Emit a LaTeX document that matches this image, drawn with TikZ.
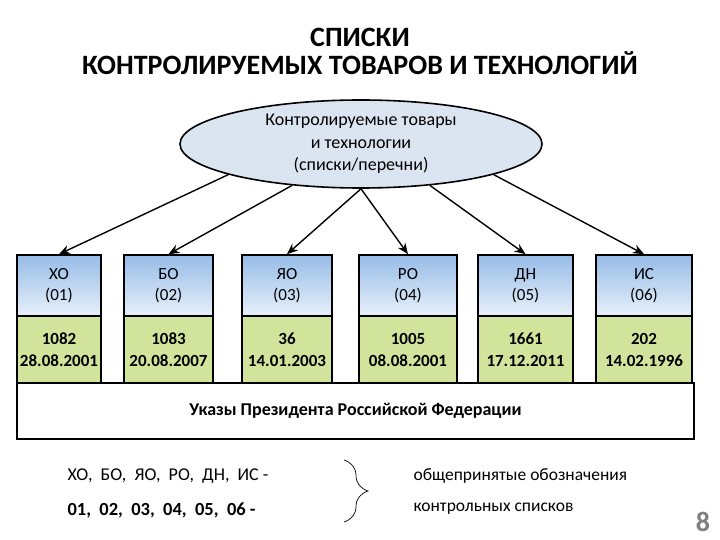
\documentclass[tikz,border=0pt]{standalone}
\usepackage{fontspec}
\setmainfont{Carlito}
\usetikzlibrary{arrows.meta,shapes.geometric,positioning,decorations.pathreplacing}

\definecolor{listblue}{RGB}{219,229,241}
\definecolor{headtop}{RGB}{150,188,232}
\definecolor{headbot}{RGB}{232,240,249}
\definecolor{decgreen}{RGB}{210,228,155}
\definecolor{pagegray}{RGB}{128,128,128}

\begin{document}
\begin{tikzpicture}[x=1pt, y=-1pt,
  head/.style={draw, line width=1.6pt, top color=headtop, bottom color=headbot,
    minimum height=61pt, inner sep=0pt, align=center,
    font=\fontsize{17}{21}\selectfont},
  decree/.style={draw, line width=1.6pt, fill=decgreen,
    minimum height=67pt, inner sep=0pt, align=center,
    font=\bfseries\fontsize{17}{22}\selectfont},
  link/.style={line width=1.4pt, -{Stealth[length=11pt, width=9pt]}}]
  \useasboundingbox (0,0) rectangle (720,540);
  \fill[white] (0,0) rectangle (720,540);

  \node[font=\bfseries\fontsize{28}{28}\selectfont, align=center] (title) at (360,51)
    {СПИСКИ\\КОНТРОЛИРУЕМЫХ ТОВАРОВ И ТЕХНОЛОГИЙ};

  \node[ellipse, draw, line width=1.6pt, fill=listblue, minimum width=362pt,
    minimum height=88pt, inner sep=0pt, align=center,
    font=\fontsize{18}{22.5}\selectfont] (list) at (361,144)
    {Контролируемые товары\\и технологии\\(списки/перечни)};

  % указы
  \node[draw, line width=1.6pt, fill=white, minimum width=677pt, minimum height=56pt,
    inner sep=0pt, font=\bfseries\fontsize{18}{20}\selectfont] (ukaz) at (355.5,411)
    {Указы Президента Российской Федерации};

  \foreach \i/\x/\w/\code/\no/\dec/\date in {
      1/59/84/ХО/01/1082/28.08.2001,
      2/168.5/89/БО/02/1083/20.08.2007,
      3/287/90/ЯО/03/36/14.01.2003,
      4/408/98/РО/04/1005/08.08.2001,
      5/525.5/95/ДН/05/1661/17.12.2011,
      6/644/96/ИС/06/202/14.02.1996} {
    \node[head, minimum width=\w pt] (head\i) at (\x,285.5) {\code\\(\no)};
    \node[decree, minimum width=\w pt] (dec\i) at (\x,349.5) {\dec\\\date};
  }

  \draw[link] (list.193) -- (head1.north);
  \draw[link] (list.211) -- (head2.north);
  \draw[link] (list.270) -- (head3.north);
  \draw[link] (list.270) -- (head4.north);
  \draw[link] (list.329) -- (head5.north);
  \draw[link] (list.347) -- (head6.north);

  % обозначения
  \node[anchor=west, font=\fontsize{18}{20}\selectfont] (abbr) at (64,476)
    {ХО, \ БО, \ ЯО, \ РО, \ ДН, \ ИС -};
  \node[anchor=west, font=\bfseries\fontsize{18.5}{20}\selectfont] (nums) at (64,510)
    {01, \ 02, \ 03, \ 04, \ 05, \ 06 -};
  \coordinate (brtop) at (344,460);
  \coordinate (brbot) at (344,522);
  \draw[line width=0.7pt, decorate, decoration={brace, amplitude=24pt, aspect=0.5}]
    (brtop) -- (brbot);
  \node[anchor=west, font=\fontsize{17.5}{20}\selectfont] (meaning) at (410,476)
    {общепринятые обозначения};
  \node[anchor=west, font=\fontsize{17.5}{20}\selectfont] (lists) at (410,509)
    {контрольных списков};
  \node[font=\bfseries\fontsize{28}{28}\selectfont, text=pagegray, inner sep=0pt]
    (page) at (703,522) {8};
\end{tikzpicture}
\end{document}
